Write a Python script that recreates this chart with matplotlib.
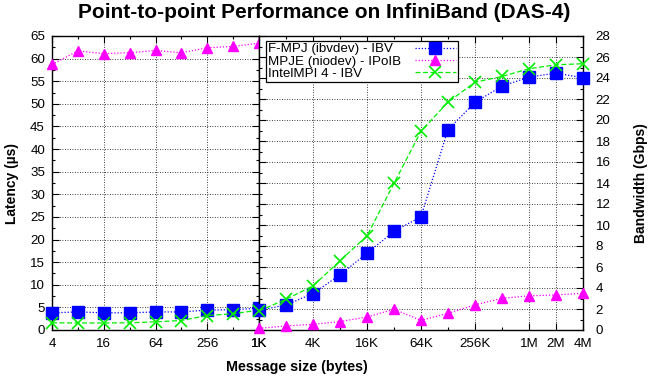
import matplotlib
matplotlib.use("Agg")
import matplotlib.pyplot as plt
from matplotlib.ticker import FixedLocator, NullFormatter, MultipleLocator

plt.rcParams['font.family'] = ['Liberation Sans', 'DejaVu Sans']

# Small messages: latency in microseconds
lat_sizes = [4, 8, 16, 32, 64, 128, 256, 512, 1024]
lat_fmpj = [3.8, 4.0, 3.8, 3.8, 4.0, 4.0, 4.4, 4.5, 4.8]
lat_mpje = [58.7, 61.7, 61.1, 61.3, 61.8, 61.3, 62.4, 62.7, 63.4]
lat_intel = [1.6, 1.55, 1.55, 1.6, 1.8, 2.1, 3.2, 3.6, 4.4]

# Large messages: bandwidth in Gbps
bw_sizes = [1024 * 2 ** i for i in range(13)]
bw_fmpj = [1.88, 2.39, 3.47, 5.25, 7.32, 9.39, 10.79, 19.09, 21.67, 23.23, 24.08, 24.47, 24.02]
bw_mpje = [0.16, 0.38, 0.54, 0.80, 1.24, 1.97, 0.92, 1.59, 2.39, 3.02, 3.25, 3.34, 3.50]
bw_intel = [1.81, 2.93, 4.20, 6.59, 8.97, 13.97, 18.93, 21.70, 23.60, 24.15, 24.88, 25.26, 25.36]

labels = ["F-MPJ (ibvdev) - IBV", "MPJE (niodev) - IPoIB", "IntelMPI 4 - IBV"]

lat_ticks = [4, 16, 64, 256, 1024]
lat_ticklabels = ["4", "16", "64", "256", "1K"]
bw_ticks = [1024, 4096, 16384, 65536, 262144, 1048576, 2097152, 4194304]
bw_ticklabels = ["1K", "4K", "16K", "64K", "256K", "1M", "2M", "4M"]

W, H = 648, 378
fig = plt.figure(figsize=(W / 100, H / 100), dpi=100)

x0, xs, x1 = 52 / W, 259 / W, 583 / W
y0, y1 = 1 - 330 / H, 1 - 36 / H

ax1 = fig.add_axes([x0, y0, xs - x0, y1 - y0])
ax2 = fig.add_axes([xs, y0, x1 - xs, y1 - y0])

styles = [
    dict(color="#0000ff", linestyle=(0, (1, 1.5)), marker="s", markersize=9,
         linewidth=0.9),
    dict(color="#ff00ff", linestyle=(0, (1, 1.5)), marker="^", markersize=7,
         linewidth=0.9),
    dict(color="#00ee00", linestyle=(0, (4, 2)), marker="x", markersize=8,
         markeredgewidth=1.2, linewidth=0.9),
]

for ys, st in zip([lat_fmpj, lat_mpje, lat_intel], styles):
    ax1.plot(lat_sizes, ys, clip_on=False, zorder=3, **st)

handles = []
for ys, st, lab in zip([bw_fmpj, bw_mpje, bw_intel], styles, labels):
    h, = ax2.plot(bw_sizes, ys, clip_on=False, zorder=3, label=lab, **st)
    handles.append(h)

grid_kw = dict(color="black", linestyle=(0, (1, 2)), linewidth=0.6)
fs = 9.6

# Left panel: latency
ax1.set_xscale("log", base=2)
ax1.set_xlim(4, 1024)
ax1.set_ylim(0, 65)
ax1.xaxis.set_major_locator(FixedLocator(lat_ticks))
ax1.set_xticklabels(lat_ticklabels)
ax1.xaxis.set_minor_locator(FixedLocator([8, 32, 128, 512]))
ax1.xaxis.set_minor_formatter(NullFormatter())
ax1.yaxis.set_major_locator(MultipleLocator(5))
ax1.yaxis.set_minor_locator(MultipleLocator(2.5))
ax1.grid(True, which="major", **grid_kw)
ax1.set_ylabel("Latency (µs)", fontweight="bold", fontsize=10, labelpad=8)

# Right panel: bandwidth
ax2.set_xscale("log", base=2)
ax2.set_xlim(1024, 4194304)
ax2.set_ylim(0, 28)
ax2.xaxis.set_major_locator(FixedLocator(bw_ticks))
ax2.set_xticklabels(bw_ticklabels)
ax2.xaxis.set_minor_locator(FixedLocator([2048, 8192, 32768, 131072, 524288]))
ax2.xaxis.set_minor_formatter(NullFormatter())
ax2.yaxis.set_major_locator(MultipleLocator(2))
ax2.yaxis.set_minor_locator(MultipleLocator(1))
ax2.yaxis.tick_right()
ax2.yaxis.set_label_position("right")
ax2.grid(True, which="major", **grid_kw)
ax2.set_ylabel("Bandwidth (Gbps)", fontweight="bold", fontsize=10, labelpad=17)

for ax in (ax1, ax2):
    ax.set_axisbelow(True)
    ax.tick_params(which="both", direction="in", top=True, labelsize=fs,
                   width=0.8, color="black")
    ax.tick_params(which="major", length=5)
    ax.tick_params(which="minor", length=2.5)
    ax.tick_params(axis="x", pad=6)
    for sp in ax.spines.values():
        sp.set_linewidth(1.0)
ax1.tick_params(axis="y", which="both", right=True, left=True, pad=5)
ax2.tick_params(axis="y", which="both", right=True, left=True, labelleft=False,
                labelright=True, pad=9)

leg_fs = 9.6
leg = ax2.legend(handles=handles, loc="upper left",
                 bbox_to_anchor=(7 / 324, 1 - 5 / 294),
                 markerfirst=False, frameon=True, fancybox=False,
                 edgecolor="black", framealpha=1, fontsize=leg_fs,
                 handlelength=3.1, handletextpad=1.0, borderpad=0.15,
                 labelspacing=0.0, borderaxespad=0)
leg.get_frame().set_linewidth(0.9)

fig.text(297 / W, 1 - 367 / H, "Message size (bytes)", ha="center", va="center",
         fontweight="bold", fontsize=10.3)
fig.suptitle("Point-to-point Performance on InfiniBand (DAS-4)", x=324 / W,
             y=1 - 13 / H, va="center", fontweight="bold", fontsize=15)

# Legend rows: texts flush left, line samples flush right on a common row width
fig.canvas.draw()
renderer = fig.canvas.get_renderer()
rows = leg._legend_handle_box.get_children()[0].get_children()
row_w = 188 * renderer.points_to_pixels(1.0) * 72 / fig.dpi
for r in rows:
    r.mode = "expand"
    r.width = row_w

fig.savefig("out.png", dpi=100)
